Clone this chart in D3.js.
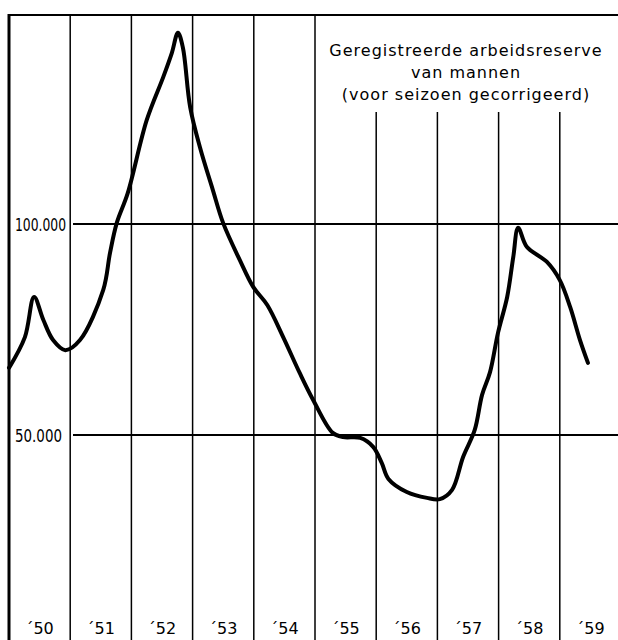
<!DOCTYPE html>
<html>
<head>
<meta charset="utf-8">
<script src="https://cdn.jsdelivr.net/npm/d3@7"></script>
<style>
  html, body { margin: 0; padding: 0; background: #fff; }
  svg { display: block; }
  text { font-family: "DejaVu Sans", "Open Sans", sans-serif; fill: #000; }
</style>
</head>
<body>
<svg id="chart" width="618" height="640"></svg>
<script>
// ---- data (values in thousands of men, time in decimal years) ----
const dates = [1950.00, 1950.26, 1950.41, 1950.56, 1950.72, 1950.92, 1951.16, 1951.54, 1951.65, 1951.76, 1951.94,
  1952.25, 1952.52, 1952.66, 1952.76, 1952.84, 1952.96, 1953.12, 1953.33, 1953.50, 1953.77,
  1953.99, 1954.22, 1954.48, 1954.75, 1954.97, 1955.29, 1955.46, 1955.74, 1955.95, 1956.09,
  1956.20, 1956.50, 1956.83, 1957.04, 1957.24, 1957.42, 1957.61, 1957.73, 1957.86, 1957.99,
  1958.14, 1958.24, 1958.32, 1958.46, 1958.79, 1959.00, 1959.17, 1959.33, 1959.46];
const values = [65.9, 73.2, 82.7, 77.3, 72.5, 70.1, 72.5, 84.4, 93.1, 100.2, 107.3,
  124.6, 134.8, 140.5, 145.3, 141.9, 127.7, 118.2, 108.1, 100.2, 91.5,
  85.1, 80.8, 73.2, 64.7, 58.3, 50.5, 49.5, 49.3, 47.2, 43.4,
  39.6, 36.5, 35.1, 34.8, 37.0, 44.8, 51.2, 59.5, 64.9, 74.2,
  82.7, 92.2, 99.1, 94.6, 91.0, 86.7, 80.3, 72.5, 67.1];
const years = [1950, 1951, 1952, 1953, 1954, 1955, 1956, 1957, 1958, 1959];
const yearLabels = ["\u00b450", "\u00b451", "\u00b452", "\u00b453", "\u00b454", "\u00b455", "\u00b456", "\u00b457", "\u00b458", "\u00b459"];
const yTicks = [50, 100];
const yTickLabels = ["50.000", "100.000"];
const titleLines = ["Geregistreerde arbeidsreserve", "van mannen", "(voor seizoen gecorrigeerd)"];

// ---- layout ----
const W = 618, H = 640;
const frameTop = 15, frameLeft = 9;
const svg = d3.select("#chart");

const x = d3.scaleLinear().domain([1950, 1960]).range([9, 621]);
const y = d3.scaleLinear().domain([0, 150]).range([646, 13]);

// vertical year grid lines
const gridYears = years.slice(1);
svg.append("g").selectAll("line").data(gridYears).join("line")
  .attr("x1", d => x(d)).attr("x2", d => x(d))
  .attr("y1", d => d >= 1956 ? 112 : frameTop)
  .attr("y2", H)
  .attr("stroke", "#000").attr("stroke-width", 1.5);

// horizontal reference lines
svg.append("g").selectAll("line").data(yTicks).join("line")
  .attr("x1", 73).attr("x2", W)
  .attr("y1", d => y(d)).attr("y2", d => y(d))
  .attr("stroke", "#000").attr("stroke-width", 1.8);

// value labels
svg.append("g").selectAll("text").data(yTicks).join("text")
  .attr("x", 15)
  .attr("y", d => y(d) + 7)
  .attr("font-size", 18)
  .attr("textLength", (d, i) => i === 1 ? 51 : 47)
  .attr("lengthAdjust", "spacingAndGlyphs")
  .text((d, i) => yTickLabels[i]);

// frame
svg.append("line").attr("x1", frameLeft).attr("x2", W).attr("y1", frameTop).attr("y2", frameTop)
  .attr("stroke", "#000").attr("stroke-width", 2);
svg.append("line").attr("x1", frameLeft).attr("x2", frameLeft).attr("y1", frameTop - 1).attr("y2", H)
  .attr("stroke", "#000").attr("stroke-width", 3);

// year labels
svg.append("g").selectAll("text").data(years).join("text")
  .attr("x", d => x(d + 0.5))
  .attr("y", 634)
  .attr("text-anchor", "middle")
  .attr("font-size", 16)
  .text((d, i) => yearLabels[i]);

// title
svg.append("g").selectAll("text").data(titleLines).join("text")
  .attr("x", 466)
  .attr("y", (d, i) => 56 + i * 22)
  .attr("text-anchor", "middle")
  .attr("font-size", 16)
  .attr("letter-spacing", 1)
  .text(d => d);

// curve
const pts = dates.map((d, i) => [d, values[i]]);
const line = d3.line().x(d => x(d[0])).y(d => y(d[1])).curve(d3.curveCatmullRom.alpha(0.5));
svg.append("path").datum(pts)
  .attr("d", line)
  .attr("fill", "none").attr("stroke", "#000").attr("stroke-width", 4)
  .attr("stroke-linejoin", "round").attr("stroke-linecap", "round");
</script>
</body>
</html>
